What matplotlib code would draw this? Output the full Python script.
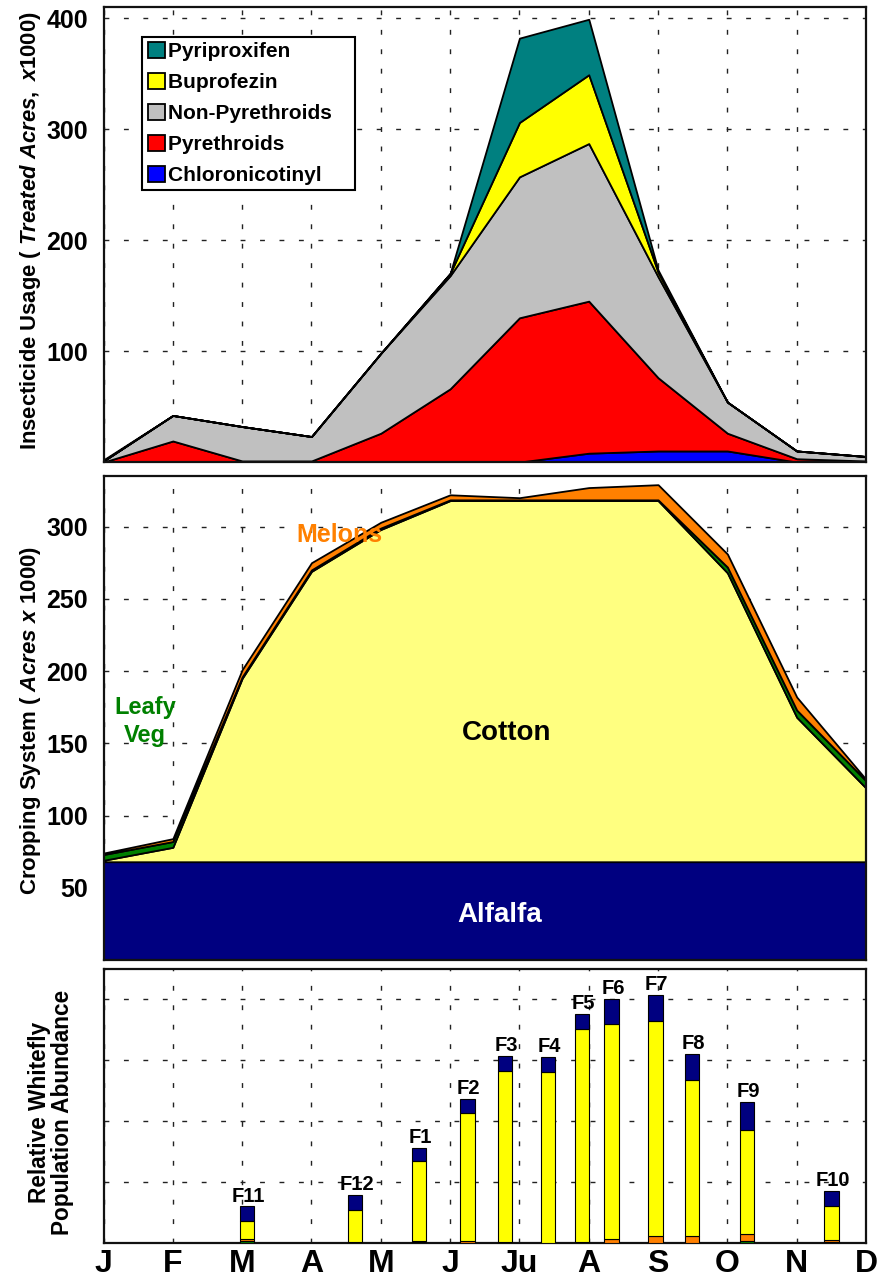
import matplotlib
matplotlib.use("Agg")
import matplotlib.pyplot as plt
import numpy as np

plt.rcParams['font.family'] = ['Liberation Sans', 'DejaVu Sans']
plt.rcParams['font.weight'] = 'bold'
plt.rcParams['mathtext.fontset'] = 'custom'
plt.rcParams['mathtext.rm'] = 'Liberation Sans:bold'
plt.rcParams['mathtext.it'] = 'Liberation Sans:italic:bold'
plt.rcParams['mathtext.bf'] = 'Liberation Sans:bold'

# ---------------- data ----------------
months = ["J", "F", "M", "A", "M", "J", "Ju", "A", "S", "O", "N", "D"]
month_pos = list(range(12))

# Top panel: insecticide usage (treated acres x1000), stacked from bottom
chloronicotinyl = [0, 0, 0, 0, 0, 0, 0, 8, 10, 10, 0, 0]
pyrethroids     = [0, 19, 1, 1, 26, 66, 130, 137, 66, 16, 3, 1]
non_pyrethroids = [1, 23, 31, 22, 72, 102, 127, 142, 91, 28, 7, 4]
buprofezin      = [0, 0, 0, 0, 0, 2, 49, 62, 4, 0, 0, 0]
pyriproxifen    = [1, 0, 0, 0, 0, 0, 76, 50, 2, 0, 0, 0]

# Middle panel: cropping system (acres x 1000), stacked from bottom
alfalfa   = [68, 68, 68, 68, 68, 68, 68, 68, 68, 68, 68, 68]
cotton    = [1, 10, 127, 201, 230, 250, 250, 250, 250, 200, 100, 51]
leafy_veg = [4, 4, 1, 1, 1, 0.5, 0.5, 0.5, 0.5, 4, 5, 5]
melons    = [1, 2, 5, 5, 4, 3.5, 1.5, 8.5, 10.5, 9, 9, 1]

# Bottom panel: relative whitefly abundance per generation
gen_labels = ["F11", "F12", "F1", "F2", "F3", "F4", "F5", "F6", "F7", "F8", "F9", "F10"]
gen_time   = [2.07, 3.63, 4.55, 5.25, 5.79, 6.41, 6.90, 7.33, 7.96, 8.49, 9.28, 10.50]
wf_leafy   = [0.03, 0.01, 0.01, 0.00, 0.01, 0.00, 0.01, 0.00, 0.00, 0.00, 0.03, 0.01]
wf_melons  = [0.04, 0.00, 0.03, 0.04, 0.00, 0.00, 0.00, 0.07, 0.12, 0.12, 0.12, 0.04]
wf_cotton  = [0.295, 0.53, 1.30, 2.09, 2.81, 2.81, 3.50, 3.52, 3.52, 2.55, 1.70, 0.56]
wf_alfalfa = [0.235, 0.25, 0.22, 0.23, 0.25, 0.24, 0.24, 0.41, 0.42, 0.43, 0.46, 0.24]

top_yticks = [100, 200, 300, 400]
mid_yticks = [50, 100, 150, 200, 250, 300]

# ---------------- figure ----------------
fig = plt.figure(figsize=(8.84, 12.81), dpi=100)
L, W = 0.1171, 0.8626
ax1 = fig.add_axes([L, 0.6393, W, 0.3552])
ax2 = fig.add_axes([L, 0.2506, W, 0.3778])
ax3 = fig.add_axes([L, 0.02966, W, 0.2139])

grid_kw = dict(color='#222222', linewidth=1.0, linestyle=(0, (3.5, 10.5)))

for ax in (ax1, ax2, ax3):
    ax.set_xlim(0, 11)
    ax.set_xticks(month_pos)
    ax.set_axisbelow(True)
    ax.grid(True, **grid_kw)
    for s in ax.spines.values():
        s.set_linewidth(1.6)
        s.set_color('#111111')
    ax.tick_params(length=0, pad=11, labelsize=18)

# Top panel
ax1.set_ylim(0, 410)
ax1.set_yticks(top_yticks)
ax1.set_yticklabels([str(v) for v in top_yticks], fontsize=18)
ax1.set_xticklabels([])
top_colors = ['#0000FF', '#FF0000', '#C0C0C0', '#FFFF00', '#008080']
top_names = ['Chloronicotinyl', 'Pyrethroids', 'Non-Pyrethroids', 'Buprofezin', 'Pyriproxifen']
polys = ax1.stackplot(month_pos, chloronicotinyl, pyrethroids, non_pyrethroids,
                      buprofezin, pyriproxifen, colors=top_colors,
                      edgecolor='black', linewidth=1.3)
handles = polys[::-1]
leg_labels = [n + "   " for n in top_names[::-1]]
leg = ax1.legend(handles, leg_labels, loc='upper left',
                 bbox_to_anchor=(0.051, 0.934), borderaxespad=0,
                 fontsize=15, fancybox=False, framealpha=1, edgecolor='black',
                 handlelength=0.85, handleheight=0.8, handletextpad=0.15,
                 labelspacing=0.56, borderpad=0.25)
leg.get_frame().set_linewidth(1.5)
for h in leg.legend_handles:
    h.set_linewidth(1.3)

# Middle panel
ax2.set_ylim(0, 335)
ax2.set_yticks(mid_yticks)
ax2.set_yticklabels([str(v) for v in mid_yticks], fontsize=18)
ax2.set_xticklabels([])
ax2.stackplot(month_pos, alfalfa, cotton, leafy_veg, melons,
              colors=['#000080', '#FFFF80', '#008000', '#FF8000'],
              edgecolor='black', linewidth=1.3)
ax2.text(3.41, 294, "Melons", color='#FF8000', fontsize=18, ha='center', va='center')
ax2.text(0.60, 165, "Leafy\nVeg", color='#008000', fontsize=17, ha='center', va='center',
         linespacing=1.28)
ax2.text(5.81, 157, "Cotton", color='black', fontsize=20, ha='center', va='center')
ax2.text(5.72, 31, "Alfalfa", color='white', fontsize=20, ha='center', va='center')

# Bottom panel
ax3.set_ylim(0, 4.49)
ax3.set_yticks([1, 2, 3, 4])
ax3.set_yticklabels([])
ax3.set_xticklabels(months, fontsize=23)
ax3.tick_params(axis='x', pad=4)
bw = 0.21
bottom = np.zeros(len(gen_time))
for vals, col in [(wf_leafy, '#008000'), (wf_melons, '#FF8000'),
                  (wf_cotton, '#FFFF00'), (wf_alfalfa, '#000080')]:
    v = np.array(vals)
    ax3.bar(gen_time, v, width=bw, bottom=bottom, color=col,
            edgecolor='black', linewidth=0.8, zorder=3)
    bottom = bottom + v
for x, tot, lab in zip(gen_time, bottom, gen_labels):
    ax3.annotate(lab, (x, tot), xytext=(1, 3.5), textcoords='offset points',
                 ha='center', va='baseline', fontsize=14.5, zorder=4)

# Y labels
fig.text(0.034, 0.8197, r"Insecticide Usage ( $\mathit{Treated\ Acres,\ x1000)}$",
         rotation=90, ha='center', va='center', fontsize=15.8)
fig.text(0.035, 0.4379, r"Cropping System ( $\mathit{Acres\ x\ 1000)}$",
         rotation=90, ha='center', va='center', fontsize=16)
fig.text(0.0577, 0.1319, "Relative Whitefly\nPopulation Abundance",
         rotation=90, ha='center', va='center', fontsize=16.3, multialignment='center',
         linespacing=1.05)

fig.savefig("out.png", dpi=100)
